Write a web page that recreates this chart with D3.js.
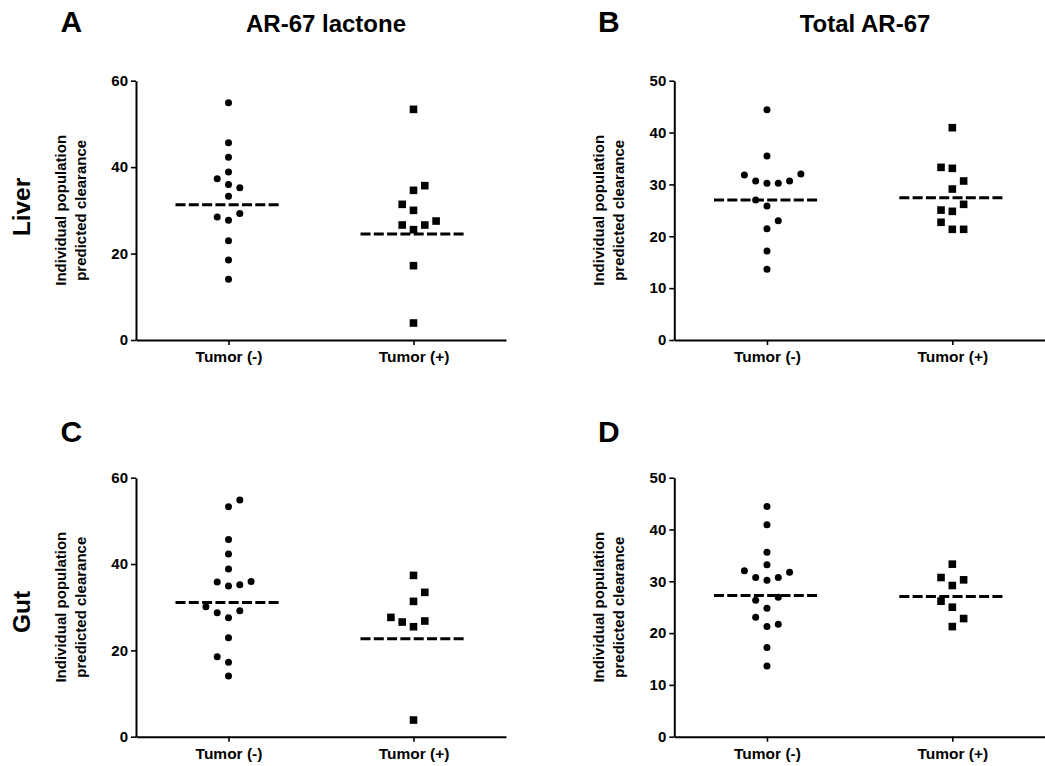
<!DOCTYPE html>
<html>
<head>
<meta charset="utf-8">
<script src="https://cdn.jsdelivr.net/npm/d3@7"></script>
<style>
  html, body { margin: 0; padding: 0; background: #fff; }
  svg { display: block; font-family: "Liberation Sans", Arial, sans-serif; font-weight: bold; }
</style>
</head>
<body>
<svg id="chart" width="1045" height="766"></svg>
<script>
// ---- data ----
const groups = ["Tumor (-)", "Tumor (+)"];
const lactoneTicks = [0, 20, 40, 60];
const totalTicks = [0, 10, 20, 30, 40, 50];
const yLabelLines = ["Individual population", "predicted clearance"];

// Liver, AR-67 lactone
const liverLactoneNeg = [54.9, 45.65, 42.26, 38.87, 36.01, 35.24, 37.33, 33.25, 27.69, 29.3, 28.46, 22.98, 18.51, 14.04];
const liverLactonePos = [53.37, 34.63, 35.71, 30.0, 31.39, 25.53, 26.61, 26.61, 27.53, 17.2, 3.93];
const liverLactoneLine = [31.3, 24.5];

// Liver, total AR-67
const liverTotalNeg = [44.41, 35.48, 30.21, 30.21, 30.66, 30.66, 31.81, 32.0, 25.84, 26.99, 21.47, 23.01, 17.16, 13.62];
const liverTotalPos = [40.94, 33.10, 29.11, 30.66, 33.29, 24.81, 26.16, 25.05, 21.34, 21.34, 22.7];
const liverTotalLine = [27.0, 27.45];

// Gut, AR-67 lactone
const gutLactoneNeg = [53.28, 54.83, 45.71, 42.32, 38.84, 17.22, 18.53, 34.90, 35.21, 35.83, 35.98, 27.57, 28.73, 29.19, 30.1, 22.93, 14.05];
const gutLactonePos = [37.37, 31.35, 33.44, 25.48, 26.56, 26.80, 27.64, 3.86];
const gutLactoneLine = [31.1, 22.7];

// Gut, total AR-67
const gutTotalNeg = [44.46, 40.91, 35.6, 33.2, 30.22, 30.73, 30.73, 31.77, 32.02, 24.81, 26.93, 26.35, 21.26, 21.71, 23.07, 17.20, 13.66];
const gutTotalPos = [33.31, 29.19, 30.28, 30.73, 25.0, 21.26, 22.81, 26.16];
const gutTotalLine = [27.25, 27.05];

const panels = [
  { letter: "A", title: "AR-67 lactone", organ: "Liver", series: [liverLactoneNeg, liverLactonePos], line: liverLactoneLine, ticks: lactoneTicks, col: 0, row: 0 },
  { letter: "B", title: "Total AR-67", organ: null, series: [liverTotalNeg, liverTotalPos], line: liverTotalLine, ticks: totalTicks, col: 1, row: 0 },
  { letter: "C", title: null, organ: "Gut", series: [gutLactoneNeg, gutLactonePos], line: gutLactoneLine, ticks: lactoneTicks, col: 0, row: 1 },
  { letter: "D", title: null, organ: null, series: [gutTotalNeg, gutTotalPos], line: gutTotalLine, ticks: totalTicks, col: 1, row: 1 }
];

// ---- layout ----
const cols = [
  { left: 136, right: 506, letterX: 60.5, titleX: 326 },
  { left: 674.3, right: 1045, letterX: 598, titleX: 865 }
];
const rows = [
  { top: 80.7, bottom: 340, letterY: 31.7, titleY: 32.3, organY: 207 },
  { top: 477.7, bottom: 736.7, letterY: 441.5, titleY: 442, organY: 612 }
];
const laneStep = 11.3;      // horizontal spacing between side-by-side symbols
const minGap = 11.5;        // vertical clearance needed to stay in the same lane
const lineHalf = 53;        // half width of the dashed summary line
const symbolGen = [
  d3.symbol().type(d3.symbolCircle).size(Math.PI * 3.5 * 3.5),
  d3.symbol().type(d3.symbolSquare).size(7.6 * 7.6)
];

const svg = d3.select("#chart");

// Column scatter layout: points in order take the centre lane if free,
// otherwise the nearest free lane, alternating sides.
function swarmLanes(values, y) {
  const placed = [];
  let side = 1;
  return values.map(v => {
    const py = y(v);
    const free = lane => placed.every(p => p.lane !== lane || Math.abs(p.py - py) >= minGap);
    let lane = 0;
    if (!free(0)) {
      const trials = [];
      for (let k = 1; k <= 6; k++) trials.push(side * k, -side * k);
      lane = trials.find(free);
      side = -side;
    }
    placed.push({ lane, py });
    return lane;
  });
}

panels.forEach(p => {
  const c = cols[p.col], r = rows[p.row];
  const y = d3.scaleLinear().domain([0, d3.max(p.ticks)]).range([r.bottom, r.top]);
  const x = d3.scalePoint().domain(groups).range([c.left, c.right]).padding(0.5);

  const g = svg.append("g");

  // y axis
  const ya = g.append("g")
    .attr("transform", `translate(${c.left},0)`)
    .call(d3.axisLeft(y).tickValues(p.ticks).tickFormat(d3.format("d")).tickSize(5).tickSizeOuter(0).tickPadding(3));
  ya.select(".domain").attr("stroke", "#000").attr("stroke-width", 2);
  ya.selectAll(".tick line").attr("stroke", "#000").attr("stroke-width", 1.6);
  ya.selectAll(".tick text").attr("fill", "#000").attr("font-size", 15).attr("font-weight", "bold")
    .attr("font-family", "'Liberation Sans', Arial, sans-serif");

  // x axis
  const xa = g.append("g")
    .attr("transform", `translate(0,${r.bottom})`)
    .call(d3.axisBottom(x).tickSize(5).tickSizeOuter(0).tickPadding(6));
  xa.select(".domain").attr("stroke", "#000").attr("stroke-width", 2);
  xa.selectAll(".tick line").attr("stroke", "#000").attr("stroke-width", 1.6);
  xa.selectAll(".tick text").attr("fill", "#000").attr("font-size", 15.5).attr("font-weight", "bold")
    .attr("font-family", "'Liberation Sans', Arial, sans-serif");

  // y axis title (two lines)
  yLabelLines.forEach((t, i) => {
    g.append("text")
      .attr("transform", `translate(${c.left - 70.3 + i * 19.8},${(r.top + r.bottom) / 2}) rotate(-90)`)
      .attr("text-anchor", "middle")
      .attr("font-size", 15)
      .attr("fill", "#000")
      .text(t);
  });

  // points
  p.series.forEach((vals, gi) => {
    const lanes = swarmLanes(vals, y);
    const cx = x(groups[gi]);
    g.append("g").selectAll("path")
      .data(vals)
      .join("path")
      .attr("d", symbolGen[gi])
      .attr("transform", (d, i) => `translate(${cx + lanes[i] * laneStep},${y(d)})`)
      .attr("fill", "#000");
  });

  // dashed summary lines
  g.append("g").selectAll("line")
    .data(p.line)
    .join("line")
    .attr("x1", (d, i) => x(groups[i]) - lineHalf)
    .attr("x2", (d, i) => x(groups[i]) + lineHalf)
    .attr("y1", d => y(d))
    .attr("y2", d => y(d))
    .attr("stroke", "#000")
    .attr("stroke-width", 3)
    .attr("stroke-dasharray", "10 3.3");

  // panel letter
  g.append("text")
    .attr("x", c.letterX).attr("y", r.letterY)
    .attr("font-size", 30).attr("fill", "#000")
    .text(p.letter);

  // column title
  if (p.title) {
    g.append("text")
      .attr("x", c.titleX).attr("y", r.titleY)
      .attr("text-anchor", "middle")
      .attr("font-size", 24).attr("fill", "#000")
      .text(p.title);
  }

  // row label
  if (p.organ) {
    g.append("text")
      .attr("transform", `translate(29.5,${r.organY}) rotate(-90)`)
      .attr("text-anchor", "middle")
      .attr("font-size", 24.5).attr("fill", "#000")
      .text(p.organ);
  }
});
</script>
</body>
</html>
